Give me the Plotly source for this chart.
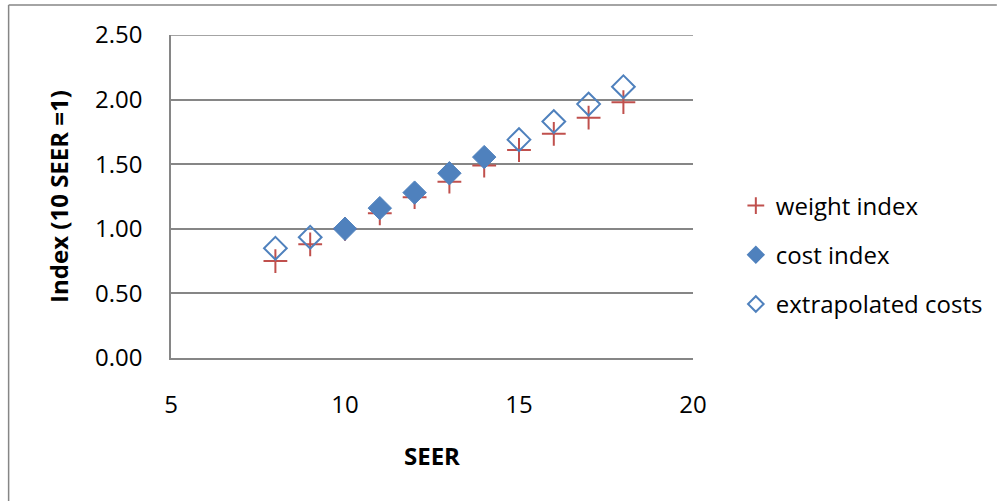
import plotly.graph_objects as go

# Data
seer_all = [8, 9, 10, 11, 12, 13, 14, 15, 16, 17, 18]
weight_index = [0.75, 0.88, 1.00, 1.12, 1.245, 1.365, 1.49, 1.61, 1.735, 1.86, 1.98]

seer_cost = [10, 11, 12, 13, 14]
cost_index = [1.00, 1.16, 1.28, 1.43, 1.555]

seer_extra = [8, 9, 15, 16, 17, 18]
extrapolated_costs = [0.85, 0.935, 1.69, 1.83, 1.965, 2.10]

x_ticks = [5, 10, 15, 20]
y_ticks = [0.0, 0.5, 1.0, 1.5, 2.0, 2.5]

RED = "#C0504D"
BLUE = "#4F81BD"
GRAY = "#868686"
FONT = "Open Sans"

fig = go.Figure()
fig.add_trace(go.Scatter(
    x=seer_all, y=weight_index, mode="markers", name="weight index",
    legendgroup="a",
    marker=dict(symbol="cross-thin", size=17, color=RED, line=dict(color=RED, width=2)),
))
fig.add_trace(go.Scatter(
    x=seer_cost, y=cost_index, mode="markers", name="cost index",
    legendgroup="b",
    marker=dict(symbol="diamond", size=18, color=BLUE, line=dict(color=BLUE, width=1)),
))
fig.add_trace(go.Scatter(
    x=seer_extra, y=extrapolated_costs, mode="markers", name="extrapolated costs",
    legendgroup="c",
    marker=dict(symbol="diamond-open", size=17.5, color=BLUE, line=dict(color=BLUE, width=2)),
))

L, R, T, B = 171, 305, 35, 143
W, H = 1000, 501
pw, ph = W - L - R, H - T - B

def px(xp):
    return (xp - L) / pw

def py(yp):
    return (H - B - yp) / ph

fig.update_layout(
    width=W, height=H,
    margin=dict(l=L, r=R, t=T, b=B, pad=0),
    paper_bgcolor="white", plot_bgcolor="white",
    font=dict(family=FONT, size=24, color="black"),
    showlegend=True,
    legend=dict(
        x=px(738), y=py(255), xanchor="left", yanchor="middle",
        traceorder="grouped", tracegroupgap=15, itemsizing="constant",
        font=dict(family=FONT, size=24, color="black"),
        bgcolor="rgba(0,0,0,0)",
    ),
    xaxis=dict(
        range=[5, 20], tickvals=x_ticks, ticktext=[str(v) for v in x_ticks],
        showgrid=False, zeroline=False, showline=True, linecolor=GRAY, linewidth=1.5,
        ticks="", ticklabelstandoff=24,
        title=dict(text="<b>SEER</b>", standoff=30, font=dict(family=FONT, size=24)),
    ),
    yaxis=dict(
        range=[0, 2.5], tickvals=y_ticks, ticktext=[f"{v:.2f}" for v in y_ticks],
        showgrid=True, gridcolor=GRAY, gridwidth=1.5,
        zeroline=False, showline=True, linecolor=GRAY, linewidth=1.5,
        ticks="", ticklabelstandoff=22,
        title=dict(text="<b>Index (10 SEER =1)</b>", standoff=20, font=dict(family=FONT, size=24)),
    ),
    shapes=[
        dict(type="line", xref="paper", yref="y", x0=0, x1=1, y0=y_ticks[-1], y1=y_ticks[-1],
             line=dict(color=GRAY, width=1.5), layer="below"),
        dict(type="line", xref="paper", yref="paper", x0=px(8), x1=px(8), y0=py(5), y1=py(501),
             line=dict(color=GRAY, width=1.5)),
        dict(type="line", xref="paper", yref="paper", x0=px(8), x1=px(1000), y0=py(5), y1=py(5),
             line=dict(color=GRAY, width=1.5)),
    ],
)

fig.write_html("out.html")
